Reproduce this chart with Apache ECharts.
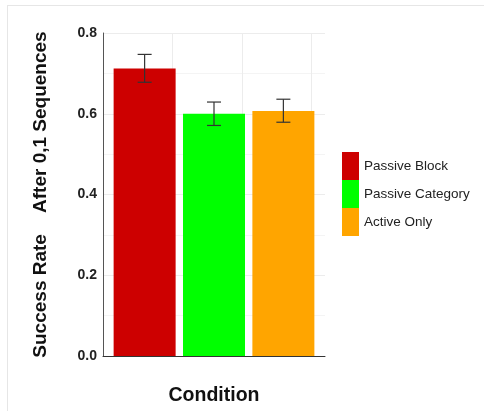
<!DOCTYPE html>
<html>
<head>
<meta charset="utf-8">
<script src="https://cdn.jsdelivr.net/npm/echarts@6/dist/echarts.min.js"></script>
<style>
    html, body { margin: 0; padding: 0; background: #fff; }
    #chart { width: 484px; height: 411px; }
</style>
</head>
<body>
<div id="chart"></div>
<script>
var conditions = ['Passive Block', 'Passive Category', 'Active Only'];
var positions = [1, 2, 3];//---x position of each condition
var successRate = [0.712, 0.600, 0.607];
var errLow = [0.678, 0.571, 0.579];
var errHigh = [0.747, 0.629, 0.636];
var barColors = ['#cd0000', '#00ff00', '#ffa500'];

var myChart = echarts.init(document.getElementById('chart'));

var barSeries = conditions.map(function (name, i) {
    return {
        type: 'bar',
        name: name,
        data: [[positions[i], successRate[i]]],
        barWidth: 62,
        barGap: '-100%',
        itemStyle: { color: barColors[i] },
        z: 2
    };
});

var errData = positions.map(function (x, i) {
    return [x, errLow[i], errHigh[i]];
});

var option = {
    backgroundColor: '#fff',
    animation: false,
    textStyle: { fontFamily: 'Liberation Sans, Arial, sans-serif' },
    graphic: [
        { type: 'line', shape: { x1: 7, y1: 5.5, x2: 484, y2: 5.5 }, style: { stroke: '#e6e6e6', lineWidth: 1 } },
        { type: 'line', shape: { x1: 7.5, y1: 5, x2: 7.5, y2: 411 }, style: { stroke: '#e6e6e6', lineWidth: 1 } }
    ],
    grid: {
        left: 103,
        right: 159,
        top: 33,
        bottom: 55
    },
    legend: {
        orient: 'vertical',
        left: 342,
        top: 152,
        padding: 0,
        itemGap: 0,
        itemWidth: 17,
        itemHeight: 28,
        itemTextGap: 3,
        icon: 'rect',
        data: conditions,
        textStyle: { fontSize: 13.5, color: '#222' }
    },
    xAxis: {
        type: 'value',
        min: 0.4,
        max: 3.6,
        interval: 1,
        name: 'Condition',
        nameLocation: 'middle',
        nameGap: 30,
        nameTextStyle: { fontSize: 19.5, fontWeight: 'bold', color: '#111' },
        axisLine: { show: true, onZero: false, lineStyle: { color: '#333', width: 1 } },
        axisTick: { show: false },
        axisLabel: { show: false },
        splitLine: {
            show: true,
            showMinLine: false,
            showMaxLine: false,
            lineStyle: { color: '#ececec', width: 1 }
        }
    },
    yAxis: {
        type: 'value',
        min: 0,
        max: 0.8,
        interval: 0.2,
        name: 'Success Rate    After 0,1 Sequences',
        nameLocation: 'middle',
        nameRotate: 90,
        nameGap: 53,
        nameTextStyle: { fontSize: 19, fontWeight: 'bold', color: '#111' },
        axisLine: { show: true, lineStyle: { color: '#555', width: 1 } },
        axisTick: { show: false },
        axisLabel: {
            fontSize: 14,
            fontWeight: 'bold',
            color: '#222',
            margin: 6,
            formatter: function (v) { return v.toFixed(1); }
        },
        splitLine: { show: true, lineStyle: { color: '#ececec', width: 1 } },
        minorTick: { show: false, splitNumber: 2 },
        minorSplitLine: { show: true, lineStyle: { color: '#f4f4f4', width: 1 } }
    },
    series: barSeries.concat([
        {
            type: 'custom',
            name: 'error',
            data: errData,
            encode: { x: 0, y: [1, 2] },
            z: 5,
            renderItem: function (params, api) {
                var x = api.value(0);
                var lo = api.coord([x, api.value(1)]);
                var hi = api.coord([x, api.value(2)]);
                var hw = 7;
                var style = { stroke: '#333', lineWidth: 1.2 };
                return {
                    type: 'group',
                    children: [
                        { type: 'line', shape: { x1: lo[0], y1: lo[1], x2: hi[0], y2: hi[1] }, style: style },
                        { type: 'line', shape: { x1: lo[0] - hw, y1: lo[1], x2: lo[0] + hw, y2: lo[1] }, style: style },
                        { type: 'line', shape: { x1: hi[0] - hw, y1: hi[1], x2: hi[0] + hw, y2: hi[1] }, style: style }
                    ]
                };
            }
        }
    ])
};

myChart.setOption(option);
</script>
</body>
</html>
